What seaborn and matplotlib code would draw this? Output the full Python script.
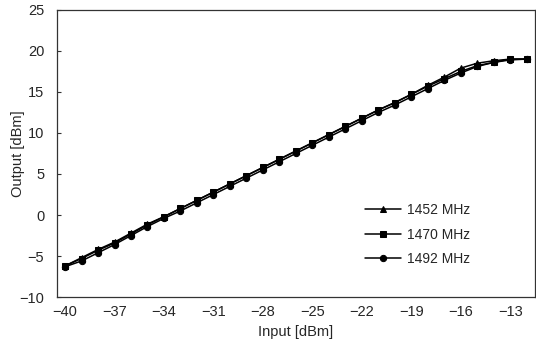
import numpy as np
import pandas as pd
import matplotlib
matplotlib.use("Agg")
import matplotlib.pyplot as plt
import seaborn as sns

# input power sweep [dBm]
inp = list(range(-40, -11))

# output power [dBm]
out_1452 = [-6.2, -5.2, -4.2, -3.3, -2.2, -1.1, -0.2, 0.8, 1.8, 2.8,
            3.8, 4.8, 5.8, 6.8, 7.8, 8.8, 9.8, 10.8, 11.8, 12.8,
            13.7, 14.7, 15.8, 16.8, 17.9, 18.5, 18.8, 19.0, 19.0]
out_1470 = [-6.2, -5.3, -4.3, -3.4, -2.3, -1.2, -0.2, 0.8, 1.8, 2.8,
            3.8, 4.8, 5.8, 6.8, 7.8, 8.8, 9.8, 10.8, 11.8, 12.8,
            13.7, 14.7, 15.7, 16.6, 17.5, 18.2, 18.6, 19.0, 19.0]
out_1492 = [-6.3, -5.6, -4.6, -3.6, -2.5, -1.4, -0.4, 0.5, 1.5, 2.5,
            3.5, 4.5, 5.5, 6.5, 7.5, 8.5, 9.5, 10.5, 11.5, 12.5,
            13.4, 14.4, 15.4, 16.4, 17.3, 18.1, 18.6, 18.9, 19.0]

labels = ['1452 MHz', '1470 MHz', '1492 MHz']
markers = ['^', 's', 'o']
msizes = [5, 5, 4.5]

xticks = list(range(-40, -12, 3))
yticks = list(range(-10, 26, 5))

sns.set_style("white")
plt.rcParams['font.family'] = ['Liberation Sans', 'DejaVu Sans']

fig = plt.figure(figsize=(5.36, 3.52), dpi=100)
ax = fig.add_axes([0.106, 0.156, 0.892, 0.816])

for vals, lab, mk, ms in zip([out_1452, out_1470, out_1492], labels, markers, msizes):
    sns.lineplot(x=inp, y=vals, color='black', marker=mk, markersize=ms,
                 markeredgecolor='black', linewidth=1.1, label=lab, ax=ax)

ax.set_xlim(-40.5, -11.5)
ax.set_ylim(-10, 25)
ax.set_xticks(xticks)
ax.set_xticklabels([str(t).replace('-', '\u2212') for t in xticks], fontsize=10.5)
ax.set_xticks(np.arange(-40.5, -11.4, 3), minor=True)
ax.tick_params(axis='x', which='major', length=0, pad=6)
ax.tick_params(axis='x', which='minor', direction='inout', length=5, width=0.8, color='#333333')
ax.set_yticks(yticks)
ax.set_yticklabels([str(t).replace('-', '\u2212') for t in yticks], fontsize=10.5)
ax.tick_params(axis='y', direction='in', length=3, width=0.8, color='#333333', left=True, pad=9)

for s in ax.spines.values():
    s.set_color('#333333')
    s.set_linewidth(0.9)

ax.set_xlabel('Input [dBm]', fontsize=10.5, labelpad=4)
ax.set_ylabel('Output [dBm]', fontsize=10.5)
ax.yaxis.set_label_coords(-0.066, 0.5)

leg = ax.legend(loc='lower right', bbox_to_anchor=(0.89, 0.065), frameon=False,
                fontsize=10, handlelength=2.6, labelspacing=0.75, handletextpad=0.4)

fig.savefig('out.png', dpi=100)
